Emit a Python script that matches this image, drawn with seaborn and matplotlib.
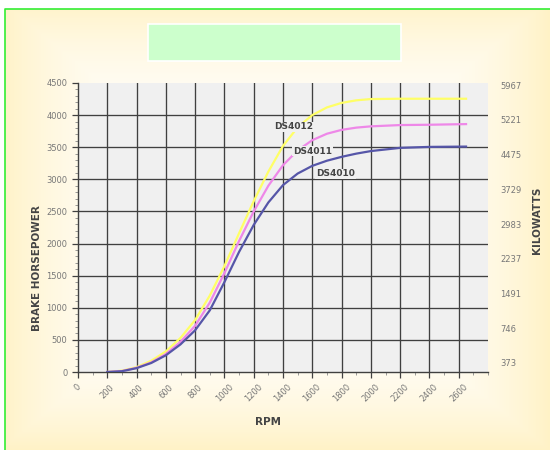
import numpy as np
import pandas as pd
import seaborn as sns
import matplotlib
import matplotlib.pyplot as plt
from matplotlib.patches import Rectangle
from matplotlib.ticker import MultipleLocator

matplotlib.use("Agg")

# ------ data ------ #
rpm = [200, 300, 400, 500, 600, 700, 800, 900, 1000, 1100, 1200, 1300,
       1400, 1500, 1600, 1700, 1800, 1900, 2000, 2200, 2400, 2650]
hp_ds4012 = [0, 20, 75, 175, 320, 530, 810, 1190, 1650, 2160, 2660, 3120,
             3520, 3810, 4000, 4120, 4190, 4230, 4250, 4255, 4255, 4255]
hp_ds4011 = [0, 15, 65, 150, 280, 470, 720, 1080, 1540, 2040, 2500, 2900,
             3220, 3450, 3610, 3710, 3770, 3805, 3825, 3845, 3850, 3860]
hp_ds4010 = [0, 12, 60, 140, 260, 430, 650, 960, 1400, 1870, 2290, 2640,
             2910, 3090, 3210, 3290, 3350, 3400, 3440, 3490, 3505, 3510]
models = ["DS4012", "DS4011", "DS4010"]
colors = ["#ffff66", "#ee88e8", "#5656a8"]
label_pos = [(1470, 3815), (1600, 3440), (1760, 3085)]

x_ticks = list(range(0, 2800, 200))
y_ticks = list(range(0, 5000, 500))
kw_labels = ["373", "746", "1491", "2237", "2983", "3729", "4475", "5221", "5967"]

df = pd.DataFrame({
    "rpm": rpm * 3,
    "hp": hp_ds4012 + hp_ds4011 + hp_ds4010,
    "model": [m for m in models for _ in rpm],
})

# ------ figure + background ------ #
fig = plt.figure(figsize=(5.5, 4.5), dpi=100)
bg = fig.add_axes([0, 0, 1, 1], zorder=-10)
yy, xx = np.mgrid[0:1:200j, 0:1:200j]
dist = np.clip(np.maximum(np.abs(xx - 0.5) * 2, np.abs(yy - 0.5) * 2) ** 3, 0, 1)
c_in = np.array([1.0, 1.0, 1.0])
c_out = np.array([1.0, 0.95, 0.78])
img = c_in[None, None, :] * (1 - dist[..., None]) + c_out[None, None, :] * dist[..., None]
bg.imshow(img, extent=[0, 1, 0, 1], aspect="auto")
bg.add_patch(Rectangle((0, 0), 5 / 550, 1, transform=bg.transAxes,
                       facecolor="white", edgecolor="none"))
bg.add_patch(Rectangle((0, 1 - 9 / 450), 1, 9 / 450, transform=bg.transAxes,
                       facecolor="white", edgecolor="none"))
bg.plot([5 / 550, 5 / 550, 1], [0, 1 - 9 / 450, 1 - 9 / 450],
        color="#33ee33", lw=1.2, transform=bg.transAxes)
bg.add_patch(Rectangle((148 / 550, 1 - 61 / 450), 253 / 550, 37 / 450,
                       transform=bg.transAxes, facecolor="#ccffcc",
                       edgecolor="white", lw=1.2))
bg.set_xlim(0, 1)
bg.set_ylim(0, 1)
bg.axis("off")

# ------ main plot ------ #
ax = fig.add_axes([78 / 550, 1 - 372 / 450, 410 / 550, 289 / 450])
ax.set_facecolor("#f0f0f0")
sns.lineplot(data=df, x="rpm", y="hp", hue="model", palette=colors,
             hue_order=models, linewidth=1.6, legend=False, ax=ax, zorder=3)

ax.set_xlim(0, 2800)
ax.set_ylim(0, 4500)
ax.set_xticks(x_ticks)
ax.set_yticks(y_ticks)
ax.xaxis.set_minor_locator(MultipleLocator(100))
ax.yaxis.set_minor_locator(MultipleLocator(100))
for v in x_ticks[1:]:
    ax.axvline(v, color="#404040", lw=0.95, zorder=1)
for v in y_ticks[1:-1]:
    ax.axhline(v, color="#404040", lw=0.95, zorder=1)

for s in ["top", "right"]:
    ax.spines[s].set_visible(False)
for s in ["left", "bottom"]:
    ax.spines[s].set_color("#404040")
    ax.spines[s].set_linewidth(1.0)

ax.tick_params(axis="both", which="major", direction="out", length=4,
               width=0.9, color="#404040", labelsize=6, labelcolor="#777777")
ax.tick_params(axis="both", which="minor", direction="out", length=2,
               width=0.6, color="#888888")
ax.set_xticklabels([str(v) for v in x_ticks], rotation=45, ha="center")
ax.set_xlabel("")
ax.set_ylabel("")

for m, (lx, ly) in zip(models, label_pos):
    ax.text(lx, ly, m, fontsize=6.5, fontweight="bold", color="#444444",
            ha="center", va="center", zorder=5,
            bbox=dict(facecolor="#f0f0f0", edgecolor="none", pad=0.6))

# ------ right kilowatt labels ------ #
ax2 = ax.twinx()
ax2.set_ylim(-0.26, 8.06)
ax2.set_yticks(range(len(kw_labels)))
ax2.set_yticklabels(kw_labels)
ax2.tick_params(axis="y", length=0, pad=9, labelsize=6, labelcolor="#777777")
for s in ax2.spines.values():
    s.set_visible(False)

fig.text(268 / 550, 1 - 422 / 450, "RPM", fontsize=7.5, fontweight="bold",
         color="#444444", ha="center", va="center")
fig.text(37 / 550, 1 - 268 / 450, "BRAKE HORSEPOWER", fontsize=7.5,
         fontweight="bold", color="#444444", ha="center", va="center",
         rotation=90)
fig.text(537 / 550, 1 - 220 / 450, "KILOWATTS", fontsize=7.5,
         fontweight="bold", color="#444444", ha="center", va="center",
         rotation=90)

plt.savefig("out.png", dpi=100)
